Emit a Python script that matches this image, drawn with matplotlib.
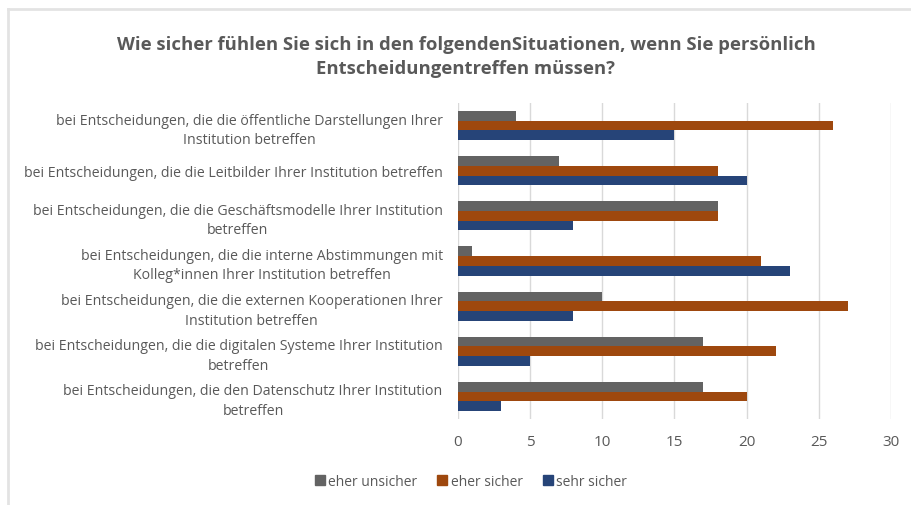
import numpy as np
import matplotlib.pyplot as plt
from matplotlib.lines import Line2D

plt.rcParams['font.family'] = ['Open Sans', 'DejaVu Sans']

# categories from top to bottom
categories = [
    'bei Entscheidungen, die die öffentliche Darstellungen Ihrer\nInstitution betreffen',
    'bei Entscheidungen, die die Leitbilder Ihrer Institution betreffen',
    'bei Entscheidungen, die die Geschäftsmodelle Ihrer Institution\nbetreffen',
    'bei Entscheidungen, die die interne Abstimmungen mit\nKolleg*innen Ihrer Institution betreffen',
    'bei Entscheidungen, die die externen Kooperationen Ihrer\nInstitution betreffen',
    'bei Entscheidungen, die die digitalen Systeme Ihrer Institution\nbetreffen',
    'bei Entscheidungen, die den Datenschutz Ihrer Institution\nbetreffen',
]
eher_unsicher = [4, 7, 18, 1, 10, 17, 17]
eher_sicher = [26, 18, 18, 21, 27, 22, 20]
sehr_sicher = [15, 20, 8, 23, 8, 5, 3]
series_names = ['eher unsicher', 'eher sicher', 'sehr sicher']
colors = ['#636363', '#9e480e', '#264478']

text_col = '#595959'

fig = plt.figure(figsize=(9.12, 5.06), dpi=100)
ax = fig.add_axes([458 / 912, 1 - 420 / 506, 433 / 912, 316 / 506])

y = np.arange(len(categories))
h = 0.215
for i, (vals, col) in enumerate(zip([eher_unsicher, eher_sicher, sehr_sicher], colors)):
    ax.barh(y + (i - 1) * h, vals, height=h, color=col, zorder=3)

ax.set_ylim(len(categories) - 0.5, -0.5)
ax.set_xlim(0, 30)
ax.set_xticks(np.arange(0, 31, 5))
ax.set_yticks(y)
ax.set_yticklabels(categories, multialignment='center', linespacing=1.4)
ax.tick_params(axis='y', length=0, pad=11, labelsize=10.2, labelcolor=text_col)
ax.tick_params(axis='x', length=0, pad=11, labelsize=11, labelcolor=text_col)
ax.grid(axis='x', color='#d9d9d9', linewidth=1, zorder=0)
for s in ax.spines.values():
    s.set_visible(False)

fig.text(466 / 912, 1 - 57 / 506,
         'Wie sicher fühlen Sie sich in den folgendenSituationen, wenn Sie persönlich\nEntscheidungentreffen müssen?',
         ha='center', va='center', fontsize=13.3, fontweight='bold', color=text_col, linespacing=1.5)

handles = [Line2D([], [], marker='s', linestyle='', markersize=7, color=c) for c in colors]
fig.legend(handles, series_names, loc='center', bbox_to_anchor=(470 / 912, 1 - 482 / 506),
           ncol=3, frameon=False, fontsize=10, labelcolor=text_col, handletextpad=0.1,
           columnspacing=1.3, handlelength=1.0)

# outer frame lines (top and left)
fig.add_artist(Line2D([8 / 912, 1], [1 - 10 / 506] * 2, color='#e3e3e3', linewidth=2))
fig.add_artist(Line2D([8 / 912] * 2, [0, 1 - 10 / 506], color='#e3e3e3', linewidth=2))

fig.savefig('out.png', dpi=100)
